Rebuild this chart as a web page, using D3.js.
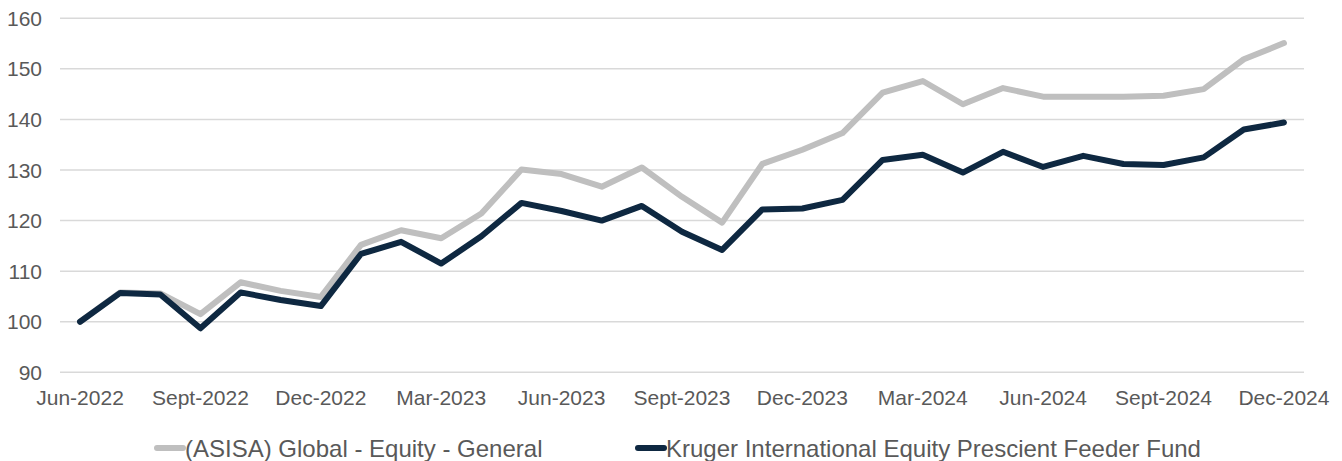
<!DOCTYPE html>
<html>
<head>
<meta charset="UTF-8">
<script src="https://cdnjs.cloudflare.com/ajax/libs/d3/7.8.5/d3.min.js"></script>
<style>
  body { margin: 0; background: #fff; }
  svg text { font-family: "Liberation Sans", Arial, sans-serif; fill: #595959; }
</style>
</head>
<body>
<svg></svg>
<script>
// monthly, Jun-2022 .. Dec-2024
var months = ["Jun-2022","Jul-2022","Aug-2022","Sept-2022","Oct-2022","Nov-2022","Dec-2022",
  "Jan-2023","Feb-2023","Mar-2023","Apr-2023","May-2023","Jun-2023","Jul-2023","Aug-2023","Sept-2023",
  "Oct-2023","Nov-2023","Dec-2023","Jan-2024","Feb-2024","Mar-2024","Apr-2024","May-2024","Jun-2024",
  "Jul-2024","Aug-2024","Sept-2024","Oct-2024","Nov-2024","Dec-2024"];

var asisa = [100, 105.8, 105.6, 101.5, 107.8, 106.1, 104.9, 115.2, 118.1, 116.5, 121.4,
  130.1, 129.2, 126.7, 130.5, 124.7, 119.6, 131.2, 134.0, 137.3, 145.3,
  147.6, 143.0, 146.2, 144.5, 144.5, 144.5, 144.7, 146.0, 151.9, 155.1];

var kruger = [100, 105.7, 105.4, 98.7, 105.8, 104.3, 103.1, 113.4, 115.8, 111.5, 116.9,
  123.5, 121.9, 120.0, 122.9, 117.8, 114.2, 122.2, 122.4, 124.1, 132.0,
  133.0, 129.5, 133.6, 130.6, 132.8, 131.2, 131.0, 132.5, 138.0, 139.4];

var yTicks = [90, 100, 110, 120, 130, 140, 150, 160];
var seriesNames = ["(ASISA) Global - Equity - General", "Kruger International Equity Prescient Feeder Fund"];
var seriesColors = ["#BFBFBF", "#0E2841"];

var width = 1342, height = 461;
var svg = d3.select("svg").attr("width", width).attr("height", height);

var x = d3.scaleBand().domain(months).range([60, 1304]);
var y = d3.scaleLinear().domain([90, 160]).range([372.3, 18.3]);
var xc = function(m) { return x(m) + x.bandwidth() / 2; };

// grid
svg.append("g").selectAll("line")
  .data(yTicks).enter().append("line")
  .attr("x1", 60).attr("x2", 1304)
  .attr("y1", d => y(d)).attr("y2", d => y(d))
  .attr("stroke", "#D9D9D9").attr("stroke-width", 1.5);

// y labels
svg.append("g").selectAll("text")
  .data(yTicks).enter().append("text")
  .attr("x", 42).attr("y", d => y(d) + 7.5)
  .attr("text-anchor", "end")
  .style("font-size", "21px")
  .text(d => d);

// x labels, every 3 months
svg.append("g").selectAll("text")
  .data(months.filter((m, i) => i % 3 === 0)).enter().append("text")
  .attr("x", d => xc(d)).attr("y", 405)
  .attr("text-anchor", "middle")
  .style("font-size", "21px")
  .text(d => d);

var line = d3.line()
  .x((d, i) => xc(months[i]))
  .y(d => y(d));

[asisa, kruger].forEach(function(s, k) {
  svg.append("path")
    .datum(s)
    .attr("d", line)
    .attr("fill", "none")
    .attr("stroke", seriesColors[k])
    .attr("stroke-width", 6)
    .attr("stroke-linejoin", "round")
    .attr("stroke-linecap", "round");
});

// legend
var legX = [155, 636];
var leg = svg.append("g").selectAll("g")
  .data(seriesNames).enter().append("g")
  .attr("transform", (d, i) => "translate(" + legX[i] + ",448)");
leg.append("line")
  .attr("x1", 2).attr("x2", 28).attr("y1", 0).attr("y2", 0)
  .attr("stroke", (d, i) => seriesColors[i])
  .attr("stroke-width", 6).attr("stroke-linecap", "round");
leg.append("text")
  .attr("x", 30).attr("y", 8.5)
  .style("font-size", "24px")
  .text(d => d);
</script>
</body>
</html>
